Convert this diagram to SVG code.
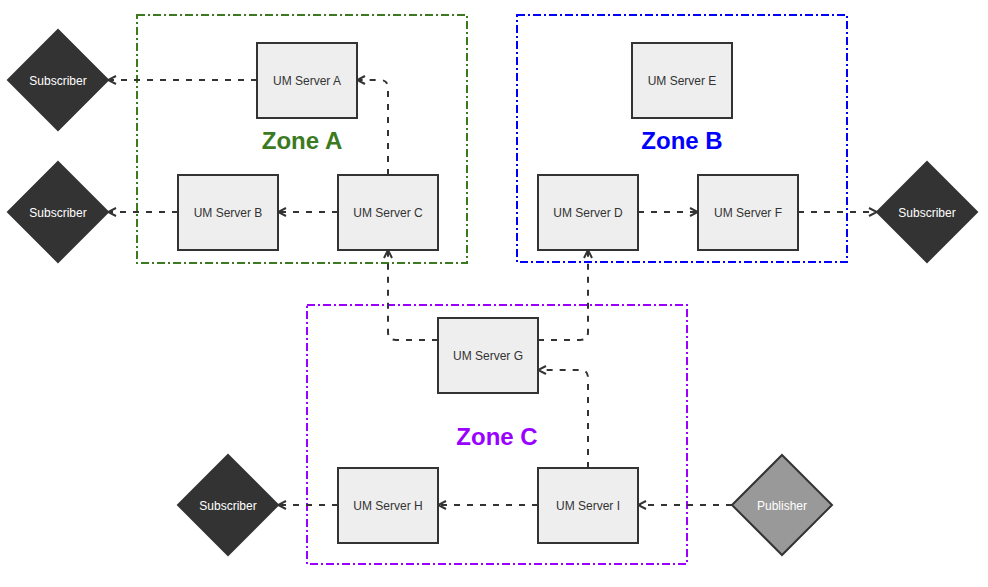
<svg xmlns="http://www.w3.org/2000/svg" width="988" height="587" viewBox="0 0 988 587">
<style>
.zone{fill:none;stroke-width:2;stroke-dasharray:8 3 2 3}
.srv rect{fill:#eeeeee;stroke:#333333;stroke-width:2}
.srv text{font-family:"Liberation Sans",Arial,sans-serif;font-size:12px;fill:#333333;text-anchor:middle;dominant-baseline:central}
.dia polygon{stroke:#333333;stroke-width:2}
.dia text{font-family:"Liberation Sans",Arial,sans-serif;font-size:12px;fill:#ffffff;text-anchor:middle;dominant-baseline:central}
.zl{font-family:"Liberation Sans",Arial,sans-serif;font-size:24px;font-weight:bold;text-anchor:middle;dominant-baseline:central}
#connectors path{fill:none;stroke:#333333;stroke-width:2;stroke-dasharray:6 7;marker-end:url(#arr)}
</style>
<defs>
<marker id="arr" viewBox="0 0 10 10" refX="9" refY="5" markerWidth="10" markerHeight="10" markerUnits="userSpaceOnUse" orient="auto">
<path d="M1,1 L9,5 L1,9" fill="none" stroke="#333333" stroke-width="2" stroke-dasharray="none"/>
</marker>
</defs>
<rect width="988" height="587" fill="#ffffff"/>
<g id="zoneA"><rect class="zone" x="137" y="15" width="330" height="248" stroke="#3b7a1f"/><text class="zl" x="302" y="140" fill="#3b7a1f">Zone A</text></g>
<g id="zoneB"><rect class="zone" x="517" y="15" width="330" height="247" stroke="#0000ff"/><text class="zl" x="682" y="140" fill="#0000ff">Zone B</text></g>
<g id="zoneC"><rect class="zone" x="307" y="305" width="380" height="259" stroke="#9900ff"/><text class="zl" x="497" y="436" fill="#9900ff">Zone C</text></g>
<g id="connectors">
<path d="M257,80 L108,80"/>
<path d="M388,175 L388,88 Q388,80 380,80 L357,80"/>
<path d="M338,212 L278,212"/>
<path d="M178,212 L108,212"/>
<path d="M438,340 L396,340 Q388,340 388,332 L388,250"/>
<path d="M538,340 L580,340 Q588,340 588,332 L588,250"/>
<path d="M588,468 L588,378 Q588,370 580,370 L538,370"/>
<path d="M538,505 L438,505"/>
<path d="M338,505 L278,505"/>
<path d="M732,505 L638,505"/>
<path d="M638,212 L698,212"/>
<path d="M798,212 L877,212"/>
</g>
<g id="serverA" class="srv"><rect x="257" y="43" width="100" height="75"/><text x="307" y="81">UM Server A</text></g>
<g id="serverB" class="srv"><rect x="178" y="175" width="100" height="75"/><text x="228" y="213">UM Server B</text></g>
<g id="serverC" class="srv"><rect x="338" y="175" width="100" height="75"/><text x="388" y="213">UM Server C</text></g>
<g id="serverE" class="srv"><rect x="632" y="43" width="100" height="75"/><text x="682" y="81">UM Server E</text></g>
<g id="serverD" class="srv"><rect x="538" y="175" width="100" height="75"/><text x="588" y="213">UM Server D</text></g>
<g id="serverF" class="srv"><rect x="698" y="175" width="100" height="75"/><text x="748" y="213">UM Server F</text></g>
<g id="serverG" class="srv"><rect x="438" y="318" width="100" height="75"/><text x="488" y="356">UM Server G</text></g>
<g id="serverH" class="srv"><rect x="338" y="468" width="100" height="75"/><text x="388" y="506">UM Server H</text></g>
<g id="serverI" class="srv"><rect x="538" y="468" width="100" height="75"/><text x="588" y="506">UM Server I</text></g>
<g id="sub1" class="dia"><polygon points="58,30 108,80 58,130 8,80" fill="#333333"/><text x="58" y="81">Subscriber</text></g>
<g id="sub2" class="dia"><polygon points="58,162 108,212 58,262 8,212" fill="#333333"/><text x="58" y="213">Subscriber</text></g>
<g id="sub3" class="dia"><polygon points="927,162 977,212 927,262 877,212" fill="#333333"/><text x="927" y="213">Subscriber</text></g>
<g id="sub4" class="dia"><polygon points="228,455 278,505 228,555 178,505" fill="#333333"/><text x="228" y="506">Subscriber</text></g>
<g id="publisher" class="dia"><polygon points="782,455 832,505 782,555 732,505" fill="#999999"/><text x="782" y="506">Publisher</text></g>
</svg>
